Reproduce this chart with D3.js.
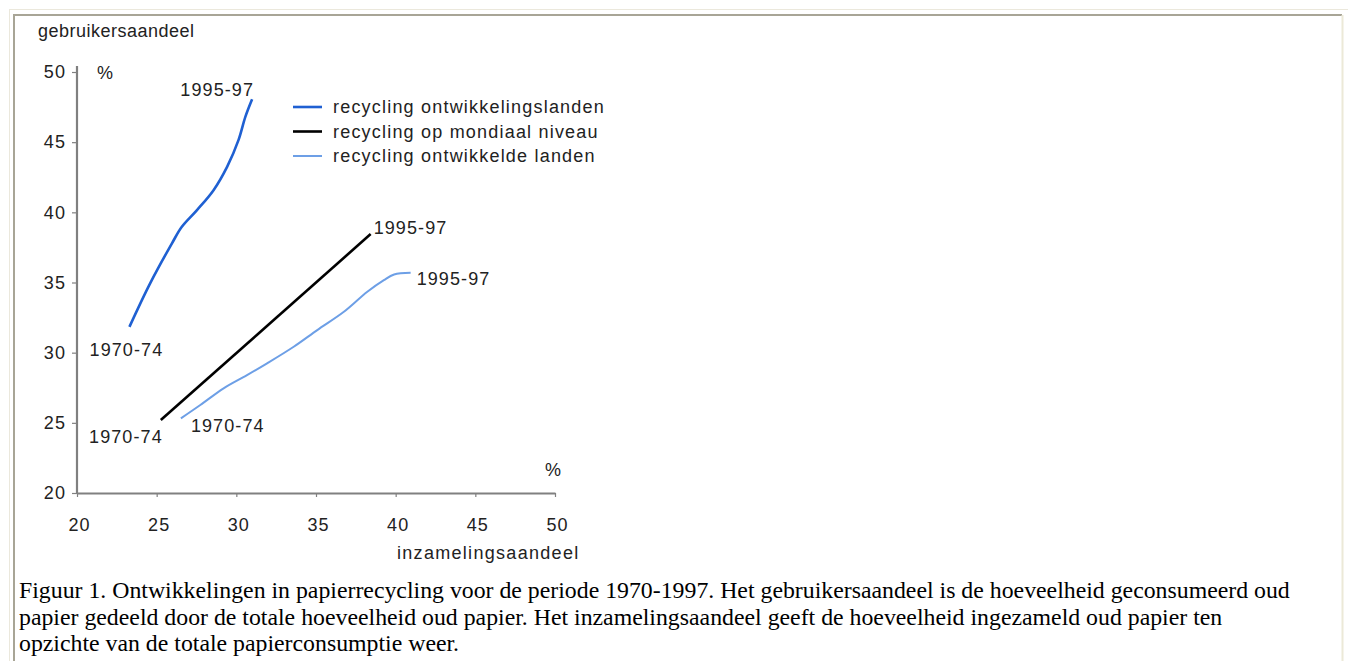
<!DOCTYPE html>
<html>
<head>
<meta charset="utf-8">
<script src="https://cdn.jsdelivr.net/npm/d3@7"></script>
<style>
  body { margin: 0; background: #fff; }
  svg text { font-family: "Liberation Sans", Arial, sans-serif; fill: #222; font-size: 18px; letter-spacing: 1.1px; }
  svg text.caption { font-family: "Liberation Serif", "Times New Roman", serif; fill: #000; font-size: 23.8px; letter-spacing: 0; }
</style>
</head>
<body>
<svg id="chart" width="1348" height="661"></svg>
<script>
// values (collection share %, user share %)
const seriesNames = [
  "recycling ontwikkelingslanden",
  "recycling op mondiaal niveau",
  "recycling ontwikkelde landen"
];
const developingX = [23.29, 24.59, 25.96, 26.58, 27.53, 28.57, 29.42, 30.14, 30.57, 30.99];
const developingY = [31.84, 34.94, 37.79, 38.97, 40.16, 41.58, 43.24, 45.16, 46.82, 48.06];
const globalX = [25.26, 38.43];
const globalY = [25.2, 38.45];
const developedX = [26.52, 27.74, 29.2, 30.67, 31.93, 33.6, 35.08, 36.75, 38.22, 39.26, 39.9, 40.94];
const developedY = [25.32, 26.27, 27.46, 28.4, 29.24, 30.42, 31.61, 32.91, 34.34, 35.17, 35.57, 35.69];
const periodStart = "1970-74";
const periodEnd = "1995-97";
const xTicks = [20, 25, 30, 35, 40, 45, 50];
const yTicks = [20, 25, 30, 35, 40, 45, 50];
const captionLines = [
  "Figuur 1. Ontwikkelingen in papierrecycling voor de periode 1970-1997. Het gebruikersaandeel is de hoeveelheid geconsumeerd oud",
  "papier gedeeld door de totale hoeveelheid oud papier. Het inzamelingsaandeel geeft de hoeveelheid ingezameld oud papier ten",
  "opzichte van de totale papierconsumptie weer."
];

const colors = ["#1f60d2", "#000000", "#6d9fe6"];
const widths = [2.6, 2.6, 2];

const series = [
  { name: seriesNames[0], pts: developingX.map((x, i) => [x, developingY[i]]) },
  { name: seriesNames[1], pts: globalX.map((x, i) => [x, globalY[i]]) },
  { name: seriesNames[2], pts: developedX.map((x, i) => [x, developedY[i]]) }
];

// label offsets (px) from the first / last point of each line
const startLabelPos = [
  { dx: -3, dy: 23, anchor: "middle" },
  { dx: 2, dy: 17, anchor: "end" },
  { dx: 10, dy: 8, anchor: "start" }
];
const endLabelPos = [
  { dx: 2, dy: -9, anchor: "end" },
  { dx: 3, dy: -6, anchor: "start" },
  { dx: 6, dy: 6, anchor: "start" }
];

const svg = d3.select("#chart");

// frame
svg.append("rect").attr("x", 9.5).attr("y", 9.5).attr("width", 1345).attr("height", 700)
  .attr("fill", "none").attr("stroke", "#ebe8dc");
svg.append("path").attr("d", "M14,700 V15 H1342").attr("fill", "none").attr("stroke", "#a8a596").attr("stroke-width", 2);
svg.append("path").attr("d", "M1342.5,15 V700").attr("fill", "none").attr("stroke", "#ece9d8").attr("stroke-width", 2);

const x = d3.scaleLinear().domain([20, 50]).range([77, 555]);
const y = d3.scaleLinear().domain([20, 50]).range([493, 72]);

const yAxis = svg.append("g").attr("transform", "translate(77,0)")
  .call(d3.axisLeft(y).tickValues(yTicks).tickSize(5).tickSizeOuter(0).tickPadding(6));
const xAxis = svg.append("g").attr("transform", "translate(0,493)")
  .call(d3.axisBottom(x).tickValues(xTicks).tickSize(4).tickSizeOuter(0).tickPadding(21));
[xAxis, yAxis].forEach(a => {
  a.select(".domain").attr("stroke", "#808080").attr("stroke-width", 2.2);
  a.selectAll(".tick line").attr("stroke", "#808080").attr("stroke-width", 1.2);
  a.selectAll(".tick text").attr("fill", "#222").style("font-size", "18px")
    .style("font-family", "Liberation Sans, Arial, sans-serif");
});
xAxis.selectAll(".tick text").attr("dx", 2);
yAxis.select(".domain").attr("d", "M0,66V493");

// axis titles and units
svg.append("text").attr("x", 38).attr("y", 31).attr("dominant-baseline", "central")
  .style("letter-spacing", "0.5px").text("gebruikersaandeel");
svg.append("text").attr("x", 97).attr("y", 73).attr("dominant-baseline", "central").text("%");
svg.append("text").attr("x", 545).attr("y", 470).attr("dominant-baseline", "central").text("%");
svg.append("text").attr("x", 397).attr("y", 553).attr("dominant-baseline", "central")
  .style("letter-spacing", "1.3px").text("inzamelingsaandeel");

// lines
const line = d3.line().x(d => x(d[0])).y(d => y(d[1])).curve(d3.curveCatmullRom.alpha(0.5));
series.forEach((s, i) => {
  svg.append("path").attr("d", line(s.pts)).attr("fill", "none")
    .attr("stroke", colors[i]).attr("stroke-width", widths[i]).attr("stroke-linecap", "butt");
  const p0 = s.pts[0], p1 = s.pts[s.pts.length - 1];
  svg.append("text").attr("x", x(p0[0]) + startLabelPos[i].dx).attr("y", y(p0[1]) + startLabelPos[i].dy)
    .attr("text-anchor", startLabelPos[i].anchor).attr("dominant-baseline", "central").text(periodStart);
  svg.append("text").attr("x", x(p1[0]) + endLabelPos[i].dx).attr("y", y(p1[1]) + endLabelPos[i].dy)
    .attr("text-anchor", endLabelPos[i].anchor).attr("dominant-baseline", "central").text(periodEnd);
});

// legend
const legend = svg.append("g").attr("transform", "translate(293,107)");
series.forEach((s, i) => {
  const g = legend.append("g").attr("transform", `translate(0,${i * 24.5})`);
  g.append("line").attr("x1", 0).attr("x2", 29).attr("y1", 0).attr("y2", 0)
    .attr("stroke", colors[i]).attr("stroke-width", widths[i]);
  g.append("text").attr("x", 40).attr("y", 0).attr("dominant-baseline", "central")
    .style("letter-spacing", "1.2px").text(s.name);
});

// caption
svg.selectAll("text.caption").data(captionLines).enter().append("text")
  .attr("class", "caption").attr("x", 19).attr("y", (d, i) => 598 + i * 26.5).text(d => d);
</script>
</body>
</html>
